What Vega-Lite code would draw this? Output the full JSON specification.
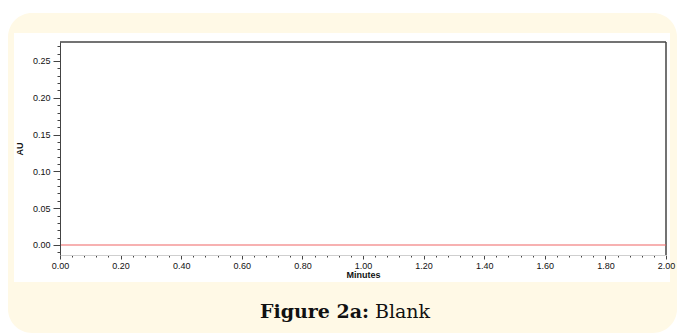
{
  "$schema": "https://vega.github.io/schema/vega-lite/v6.json",
  "width": 606,
  "height": 213,
  "autosize": {"type": "none"},
  "padding": {"left": 60, "top": 42, "right": 13, "bottom": 80},
  "background": "white",
  "config": {"view": {"stroke": null}},
  "layer": [
    {
      "data": {"values": [{}]},
      "mark": {"type": "rect", "fill": "#fff9e6", "cornerRadius": 24},
      "encoding": {
        "x": {"datum": -0.1716, "type": "quantitative", "title": "Minutes", "scale": {"domain": [0, 2], "nice": false, "zero": false}},
        "x2": {"datum": 2.0363},
        "y": {"datum": 0.3152, "type": "quantitative", "title": "AU", "scale": {"domain": [-0.0136, 0.2758], "nice": false, "zero": false}},
        "y2": {"datum": -0.1196}
      }
    },
    {
      "data": {"values": [{}]},
      "mark": {"type": "rect", "fill": "#ffffff"},
      "encoding": {
        "x": {"datum": -0.1518, "type": "quantitative", "title": "Minutes", "scale": {"domain": [0, 2], "nice": false, "zero": false}},
        "x2": {"datum": 2.0132},
        "y": {"datum": 0.288, "type": "quantitative", "title": "AU", "scale": {"domain": [-0.0136, 0.2758], "nice": false, "zero": false}},
        "y2": {"datum": -0.0503}
      }
    },
    {
      "data": {"values": [{}]},
      "mark": {"type": "rule", "color": "#444", "strokeWidth": 1.5},
      "encoding": {
        "x": {"datum": 0, "type": "quantitative", "title": "Minutes", "scale": {"domain": [0, 2], "nice": false, "zero": false}},
        "x2": {"datum": 2},
        "y": {"datum": 0.2758, "type": "quantitative", "title": "AU", "scale": {"domain": [-0.0136, 0.2758], "nice": false, "zero": false}}
      }
    },
    {
      "data": {"values": [{}]},
      "mark": {"type": "rule", "color": "#444", "strokeWidth": 1.5},
      "encoding": {
        "x": {"datum": 2, "type": "quantitative", "title": "Minutes", "scale": {"domain": [0, 2], "nice": false, "zero": false}},
        "y": {"datum": -0.0136, "type": "quantitative", "title": "AU", "scale": {"domain": [-0.0136, 0.2758], "nice": false, "zero": false}},
        "y2": {"datum": 0.2758}
      }
    },
    {
      "data": {"values": [
        {"t": 0.0, "au": 0.0}, {"t": 0.2, "au": 0.0}, {"t": 0.4, "au": 0.0}, {"t": 0.6, "au": 0.0},
        {"t": 0.8, "au": 0.0}, {"t": 1.0, "au": 0.0}, {"t": 1.2, "au": 0.0}, {"t": 1.4, "au": 0.0},
        {"t": 1.6, "au": 0.0}, {"t": 1.8, "au": 0.0}, {"t": 2.0, "au": 0.0}
      ]},
      "mark": {"type": "line", "color": "#f06464", "strokeWidth": 1.2},
      "encoding": {
        "x": {"field": "t", "type": "quantitative", "title": "Minutes", "scale": {"domain": [0, 2], "nice": false, "zero": false},
          "axis": {"values": [0,0.04,0.08,0.12,0.16,0.2,0.24,0.28,0.32,0.36,0.4,0.44,0.48,0.52,0.56,0.6,0.64,0.68,0.72,0.76,0.8,0.84,0.88,0.92,0.96,1,1.04,1.08,1.12,1.16,1.2,1.24,1.28,1.32,1.36,1.4,1.44,1.48,1.52,1.56,1.6,1.64,1.68,1.72,1.76,1.8,1.84,1.88,1.92,1.96,2], "tickCount": 200, "labelExpr": "abs(datum.value*5 - round(datum.value*5)) < 0.001 ? format(datum.value, '.2f') : ''", "tickSize": {"condition": {"test": "abs(datum.value*5 - round(datum.value*5)) < 0.001", "value": 4}, "value": 2}, "labelPadding": 2, "domainColor": "#cfcfcf", "titlePadding": 0, "zindex": 1, "labelOverlap": false, "labelFlush": false, "grid": false, "tickColor": "#444", "labelFont": "Liberation Sans", "labelFontSize": 9, "labelColor": "#111", "titleFont": "Liberation Sans", "titleFontSize": 9, "titleFontWeight": "bold", "titleColor": "#111"}},
        "y": {"field": "au", "type": "quantitative", "title": "AU", "scale": {"domain": [-0.0136, 0.2758], "nice": false, "zero": false},
          "axis": {"values": [-0.01,0,0.01,0.02,0.03,0.04,0.05,0.06,0.07,0.08,0.09,0.1,0.11,0.12,0.13,0.14,0.15,0.16,0.17,0.18,0.19,0.2,0.21,0.22,0.23,0.24,0.25,0.26,0.27], "tickCount": 200, "labelExpr": "abs(datum.value*20 - round(datum.value*20)) < 0.001 ? format(datum.value, '.2f') : ''", "tickSize": {"condition": {"test": "abs(datum.value*20 - round(datum.value*20)) < 0.001", "value": 7}, "value": 3}, "labelPadding": 3, "domainColor": "#444", "titlePadding": 8, "zindex": 1, "labelOverlap": false, "labelFlush": false, "grid": false, "tickColor": "#444", "labelFont": "Liberation Sans", "labelFontSize": 9, "labelColor": "#111", "titleFont": "Liberation Sans", "titleFontSize": 9, "titleFontWeight": "bold", "titleColor": "#111"}}
      }
    },
    {
      "data": {"values": [{}]},
      "mark": {"type": "text", "text": "Figure 2a:", "font": "DejaVu Serif", "fontSize": 19, "fontWeight": "bold", "color": "#111", "align": "right", "baseline": "alphabetic"},
      "encoding": {
        "x": {"datum": 1.0198, "type": "quantitative", "title": "Minutes", "scale": {"domain": [0, 2], "nice": false, "zero": false}},
        "y": {"datum": -0.0992, "type": "quantitative", "title": "AU", "scale": {"domain": [-0.0136, 0.2758], "nice": false, "zero": false}}
      }
    },
    {
      "data": {"values": [{}]},
      "mark": {"type": "text", "text": "Blank", "font": "DejaVu Serif", "fontSize": 19, "fontWeight": "normal", "color": "#111", "align": "left", "baseline": "alphabetic"},
      "encoding": {
        "x": {"datum": 1.0396, "type": "quantitative", "title": "Minutes", "scale": {"domain": [0, 2], "nice": false, "zero": false}},
        "y": {"datum": -0.0992, "type": "quantitative", "title": "AU", "scale": {"domain": [-0.0136, 0.2758], "nice": false, "zero": false}}
      }
    }
  ]
}
